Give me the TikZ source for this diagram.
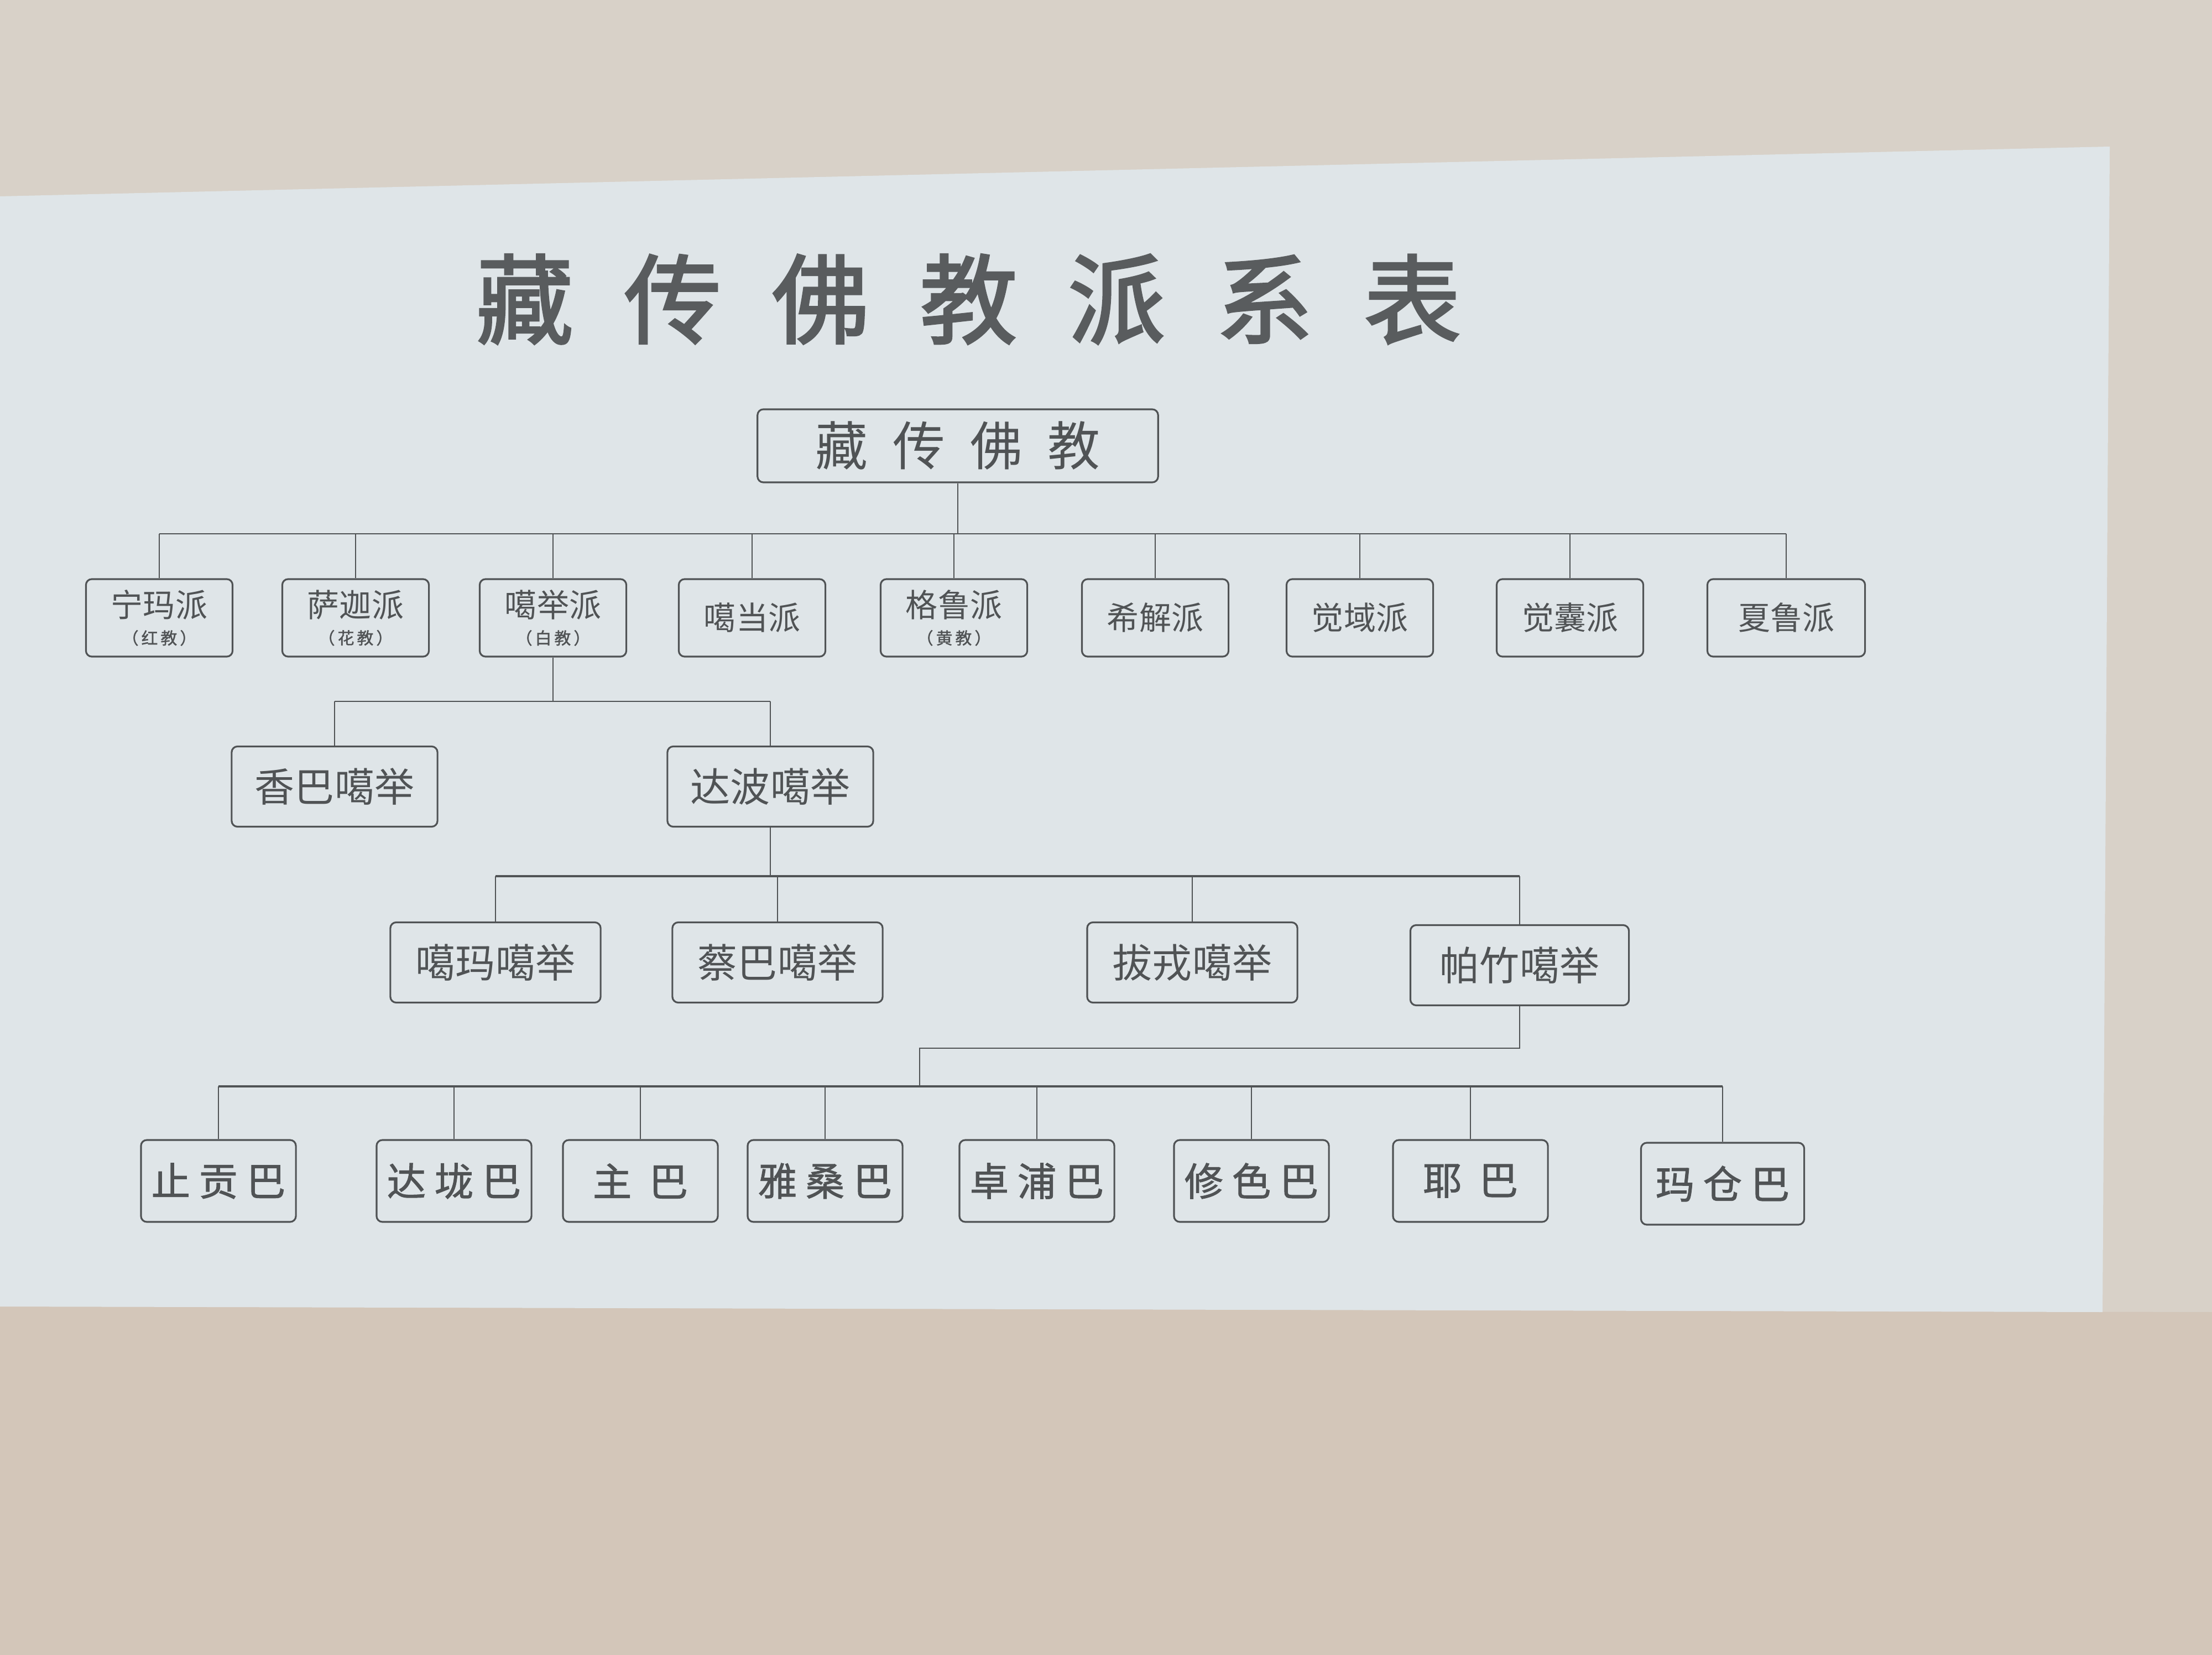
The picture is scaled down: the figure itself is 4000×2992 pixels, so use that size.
\documentclass[tikz,border=0pt]{standalone}
\usepackage{fontspec}
\newfontfamily\cjk{Noto Sans CJK SC}
\newfontfamily\cjkheavy[FakeBold=2.2]{Noto Sans CJK SC}
\newfontfamily\cjkmid[FakeBold=1.4]{Noto Sans CJK SC}
\usepackage{tikz}
\definecolor{wall}{HTML}{D8D1C8}
\definecolor{glass}{HTML}{D3C6B9}
\definecolor{board}{HTML}{DFE5E8}
\definecolor{ink}{HTML}{505355}
\definecolor{titleink}{HTML}{595C5E}

\begin{document}
\begin{tikzpicture}[x=0.01cm, y=-0.01cm,
    box/.style={draw=ink, line width=0.9pt, rounded corners=3pt, text=ink, inner sep=0pt, align=center},
    school/.style={box, minimum width=2.65cm, minimum height=1.4cm, font=\cjk\fontsize{16.5}{19}\selectfont},
    branch/.style={box, minimum width=3.8cm, minimum height=1.45cm, font=\cjk\fontsize{20.5}{24}\selectfont},
    lineage/.style={box, minimum width=2.8cm, minimum height=1.48cm, font=\cjkmid\fontsize{20}{24}\selectfont},
    link/.style={draw=ink, line width=0.8pt},
    bus/.style={draw=ink, line width=1.4pt}]
    \useasboundingbox (0,0) rectangle (4000,2992);
    \fill[wall] (0,0) rectangle (4000,2992);
    \fill[glass] (0,2362) -- (4000,2372) -- (4000,2992) -- (0,2992) -- cycle;
    \fill[board] (0,355) -- (3815,265) -- (3802,2372) -- (0,2362) -- cycle;

    \foreach \c [count=\i] in {藏,传,佛,教,派,系,表}
        \node[text=titleink, font=\cjkheavy\fontsize{50}{56}\selectfont] (t\i) at ({949+(\i-1)*267.5},541) {\c};

    \node[box, minimum width=7.24cm, minimum height=1.32cm, font=\cjk\fontsize{27}{30}\selectfont] (root) at (1732,806)
        {藏\hspace{0.45cm}传\hspace{0.45cm}佛\hspace{0.45cm}教};

    \node[school] (nyingma) at (288,1117) {宁玛派\\[-5pt]{\cjkmid\fontsize{8.5}{9}\selectfont （\,红\,教\,）}};
    \node[school] (sakya)   at (643,1117) {萨迦派\\[-5pt]{\cjkmid\fontsize{8.5}{9}\selectfont （\,花\,教\,）}};
    \node[school] (kagyu)   at (1000,1117) {噶举派\\[-5pt]{\cjkmid\fontsize{8.5}{9}\selectfont （\,白\,教\,）}};
    \node[school] (kadam)   at (1360,1117) {噶当派};
    \node[school] (gelug)   at (1725,1117) {格鲁派\\[-5pt]{\cjkmid\fontsize{8.5}{9}\selectfont （\,黄\,教\,）}};
    \node[school] (shije)   at (2089,1117) {希解派};
    \node[school] (chod)    at (2459,1117) {觉域派};
    \node[school] (jonang)  at (2839,1117) {觉囊派};
    \node[school, minimum width=2.85cm] (shalu) at (3230,1117) {夏鲁派};

    \node[branch, minimum width=3.72cm] (shangpa) at (605,1422) {香巴噶举};
    \node[branch, minimum width=3.72cm] (dagpo)   at (1393,1422) {达波噶举};

    \node[branch] (karma)  at (896,1740) {噶玛噶举};
    \node[branch] (tsalpa) at (1406,1740) {蔡巴噶举};
    \node[branch] (baram)  at (2156,1740) {拔戎噶举};
    \node[branch, minimum width=3.95cm] (phagdru) at (2748,1745) {帕竹噶举};

    \node[lineage] (drigung)  at (395,2135) {止 贡 巴};
    \node[lineage] (taglung)  at (821,2135) {达 垅 巴};
    \node[lineage] (drukpa)   at (1158,2135) {主 \ 巴};
    \node[lineage] (yazang)   at (1492,2135) {雅 桑 巴};
    \node[lineage] (tropu)    at (1875,2135) {卓 浦 巴};
    \node[lineage] (shugseb)  at (2263,2135) {修 色 巴};
    \node[lineage] (yelpa)    at (2659,2135) {耶 \ 巴};
    \node[lineage, minimum width=2.95cm] (martsang) at (3115,2140) {玛 仓 巴};

    \coordinate (b1) at (0,965);
    \coordinate (b2) at (0,1268);
    \coordinate (b3) at (0,1584);
    \coordinate (p1) at (0,1895);
    \coordinate (p2) at (1663,1895);
    \coordinate (b4) at (0,1964);

    \draw[link] (root) -- (root |- b1);
    \draw[link] (nyingma.north |- b1) -- (shalu.north |- b1);
    \foreach \n in {nyingma,sakya,kagyu,kadam,gelug,shije,chod,jonang,shalu}
        \draw[link] (\n.north |- b1) -- (\n.north);

    \draw[link] (kagyu) -- (kagyu |- b2);
    \draw[link] (shangpa.north |- b2) -- (dagpo.north |- b2);
    \foreach \n in {shangpa,dagpo}
        \draw[link] (\n.north |- b2) -- (\n.north);

    \draw[link] (dagpo) -- (dagpo |- b3);
    \draw[bus] (karma.north |- b3) -- (phagdru.north |- b3);
    \foreach \n in {karma,tsalpa,baram,phagdru}
        \draw[link] (\n.north |- b3) -- (\n.north);

    \draw[link] (phagdru) -- (phagdru |- p1) -- (p2) -- (p2 |- b4);
    \draw[bus] (drigung.north |- b4) -- (martsang.north |- b4);
    \foreach \n in {drigung,taglung,drukpa,yazang,tropu,shugseb,yelpa,martsang}
        \draw[link] (\n.north |- b4) -- (\n.north);
\end{tikzpicture}
\end{document}
